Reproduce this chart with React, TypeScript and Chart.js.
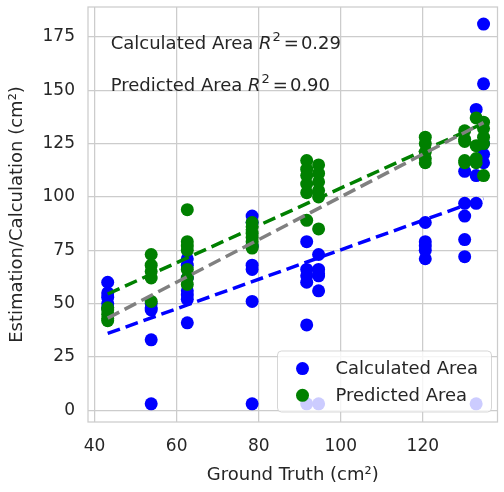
import React, { useEffect, useRef } from "react";
import { Chart, registerables } from "chart.js";

Chart.register(...registerables);

// Ground truth for each sample (cm²)
const groundTruth = [
  43.2, 43.2, 43.2, 43.2, 43.2,
  53.8, 53.8, 53.8, 53.8, 53.8,
  62.6, 62.6, 62.6, 62.6, 62.6, 62.6, 62.6,
  78.4, 78.4, 78.4, 78.4, 78.4, 78.4, 78.4,
  91.7, 91.7, 91.7, 91.7, 91.7, 91.7,
  94.6, 94.6, 94.6, 94.6, 94.6, 94.6,
  120.6, 120.6, 120.6, 120.6, 120.6,
  130.2, 130.2, 130.2, 130.2, 130.2,
  133.0, 133.0, 133.0, 133.0,
  134.8, 134.8, 134.8, 134.8, 134.8,
];
const calculatedArea = [
  60, 55, 53, 50, 48,
  50, 48, 47, 33, 3,
  71, 68, 62, 56, 54, 52, 41,
  91, 88, 77, 68, 66, 51, 3,
  79, 66, 63, 60, 40, 3,
  73, 66, 64, 63, 56, 3,
  88, 79, 77, 75, 71,
  112, 97, 91, 80, 72,
  141, 110, 97, 3,
  181, 153, 125, 120, 116,
];
const predictedArea = [
  48, 47, 45, 43, 42,
  73, 68, 65, 62, 51,
  94, 79, 77, 75, 66, 62, 59,
  88, 86, 83, 81, 79, 77, 76,
  117, 113, 110, 106, 102, 89,
  115, 111, 107, 103, 100, 85,
  128, 125, 121, 118, 116,
  131, 127, 126, 117, 116,
  137, 124, 118, 116,
  135, 132, 125, 110, 128,
];

// Fitted / reference lines (endpoints)
const fitRange = [43.2, 134.8];
const calculatedFit = [36, 99.2];
const predictedFit = [54.5, 134.5];
const identityLine = [43.2, 134.8];

const seriesLabels = ["Calculated Area", "Predicted Area"];
const r2Values = ["0.29", "0.90"];
const xTicks = [40, 60, 80, 100, 120];
const yTicks = [0, 25, 50, 75, 100, 125, 150, 175];

const BLUE = "#0000ff";
const GREEN = "#008000";
const GRAY = "#808080";
const TEXT = "#262626";
const GRID = "#cccccc";
const FONT = "DejaVu Sans";

const overlayPlugin = {
  id: "overlay",
  beforeDatasetsDraw(chart: any) {
    const { ctx, chartArea: ca } = chart;
    ctx.save();
    ctx.strokeStyle = GRID;
    ctx.lineWidth = 1.25;
    ctx.strokeRect(ca.left, ca.top, ca.right - ca.left, ca.bottom - ca.top);
    ctx.restore();
  },
  afterDatasetsDraw(chart: any) {
    const { ctx, chartArea: ca } = chart;
    ctx.save();
    // annotations
    const ann = [
      { label: "Calculated Area ", r2: r2Values[0], dy: 41.5 },
      { label: "Predicted Area ", r2: r2Values[1], dy: 83.7 },
    ];
    ctx.fillStyle = TEXT;
    ctx.textBaseline = "alphabetic";
    ctx.textAlign = "left";
    for (const a of ann) {
      let x = ca.left + 22.7;
      const y = ca.top + a.dy;
      ctx.font = `18px "${FONT}"`;
      ctx.fillText(a.label, x, y);
      x += ctx.measureText(a.label).width;
      ctx.font = `italic 18px "${FONT}"`;
      ctx.fillText("R", x, y);
      x += ctx.measureText("R").width + 1;
      ctx.font = `13px "${FONT}"`;
      ctx.fillText("2", x, y - 8);
      x += ctx.measureText("2").width + 3;
      ctx.font = `18px "${FONT}"`;
      ctx.fillText("=", x, y);
      x += ctx.measureText("=").width + 2;
      ctx.fillText(a.r2, x, y);
    }

    // legend box
    const w = 214;
    const h = 61;
    const x1 = ca.right - 6 - w;
    const y1 = ca.bottom - 10 - h;
    ctx.beginPath();
    const r = 4;
    ctx.moveTo(x1 + r, y1);
    ctx.lineTo(x1 + w - r, y1);
    ctx.quadraticCurveTo(x1 + w, y1, x1 + w, y1 + r);
    ctx.lineTo(x1 + w, y1 + h - r);
    ctx.quadraticCurveTo(x1 + w, y1 + h, x1 + w - r, y1 + h);
    ctx.lineTo(x1 + r, y1 + h);
    ctx.quadraticCurveTo(x1, y1 + h, x1, y1 + h - r);
    ctx.lineTo(x1, y1 + r);
    ctx.quadraticCurveTo(x1, y1, x1 + r, y1);
    ctx.closePath();
    ctx.fillStyle = "rgba(255,255,255,0.8)";
    ctx.fill();
    ctx.strokeStyle = "rgba(204,204,204,0.8)";
    ctx.lineWidth = 1;
    ctx.stroke();

    const colors = [BLUE, GREEN];
    const rows = [17.6, 44.3];
    for (let i = 0; i < 2; i++) {
      ctx.beginPath();
      ctx.arc(x1 + 25, y1 + rows[i], 6.5, 0, Math.PI * 2);
      ctx.fillStyle = colors[i];
      ctx.fill();
      ctx.fillStyle = TEXT;
      ctx.font = `18px "${FONT}"`;
      ctx.textBaseline = "middle";
      ctx.fillText(seriesLabels[i], x1 + 58, y1 + rows[i] + 1);
    }
    ctx.restore();
  },
};

export default function App() {
  const ref = useRef<HTMLCanvasElement>(null);

  useEffect(() => {
    document.body.style.margin = "0";
    if (!ref.current) return;
    const pts = (ys: number[]) => groundTruth.map((x, i) => ({ x, y: ys[i] }));
    const line = (ys: number[]) => fitRange.map((x, i) => ({ x, y: ys[i] }));
    const lineStyle = {
      showLine: true,
      pointRadius: 0,
      borderWidth: 3.5,
      borderDash: [13, 6],
      fill: false,
    };
    const chart = new Chart(ref.current, {
      type: "scatter",
      data: {
        datasets: [
          {
            label: seriesLabels[0],
            data: pts(calculatedArea),
            backgroundColor: BLUE,
            borderColor: BLUE,
            borderWidth: 0,
            pointRadius: 6.5,
            order: 5,
          },
          {
            label: seriesLabels[1],
            data: pts(predictedArea),
            backgroundColor: GREEN,
            borderColor: GREEN,
            borderWidth: 0,
            pointRadius: 6.5,
            order: 4,
          },
          { label: "calc fit", data: line(calculatedFit), borderColor: BLUE, ...lineStyle, order: 3 },
          { label: "pred fit", data: line(predictedFit), borderColor: GREEN, ...lineStyle, order: 2 },
          {
            label: "identity",
            data: identityLine.map((v) => ({ x: v, y: v })),
            borderColor: GRAY,
            ...lineStyle,
            order: 1,
          },
        ] as any,
      },
      options: {
        animation: false,
        responsive: false,
        devicePixelRatio: 1,
        events: [],
        layout: { padding: { top: 7, right: 2, left: 0, bottom: 0 } },
        plugins: { legend: { display: false }, tooltip: { enabled: false } },
        scales: {
          x: {
            type: "linear",
            min: 38.4,
            max: 138.2,
            afterBuildTicks: (s: any) => {
              s.ticks = xTicks.map((v) => ({ value: v }));
            },
            afterFit: (s: any) => {
              s.height = 70;
              s.paddingLeft = 0;
              s.paddingRight = 0;
            },
            border: { display: false },
            grid: { color: GRID, lineWidth: 1.25, drawTicks: false },
            ticks: { color: TEXT, font: { family: FONT, size: 17 }, padding: 14 },
            title: {
              display: true,
              text: "Ground Truth (cm²)",
              color: TEXT,
              font: { family: FONT, size: 18 },
              padding: { top: 0, bottom: 6 },
            },
          },
          y: {
            type: "linear",
            min: -5.5,
            max: 189,
            afterBuildTicks: (s: any) => {
              s.ticks = yTicks.map((v) => ({ value: v }));
            },
            afterFit: (s: any) => {
              s.width = 88;
              s.paddingTop = 0;
              s.paddingBottom = 0;
            },
            border: { display: false },
            grid: { color: GRID, lineWidth: 1.25, drawTicks: false },
            ticks: { color: TEXT, font: { family: FONT, size: 17 }, padding: 13 },
            title: {
              display: true,
              text: "Estimation/Calculation (cm²)",
              color: TEXT,
              font: { family: FONT, size: 18 },
              padding: { top: 7, bottom: 0 },
            },
          },
        },
      },
      plugins: [overlayPlugin],
    } as any);
    return () => chart.destroy();
  }, []);

  return (
    <div style={{ width: 504, height: 492 }}>
      <canvas ref={ref} width={504} height={492} />
    </div>
  );
}
